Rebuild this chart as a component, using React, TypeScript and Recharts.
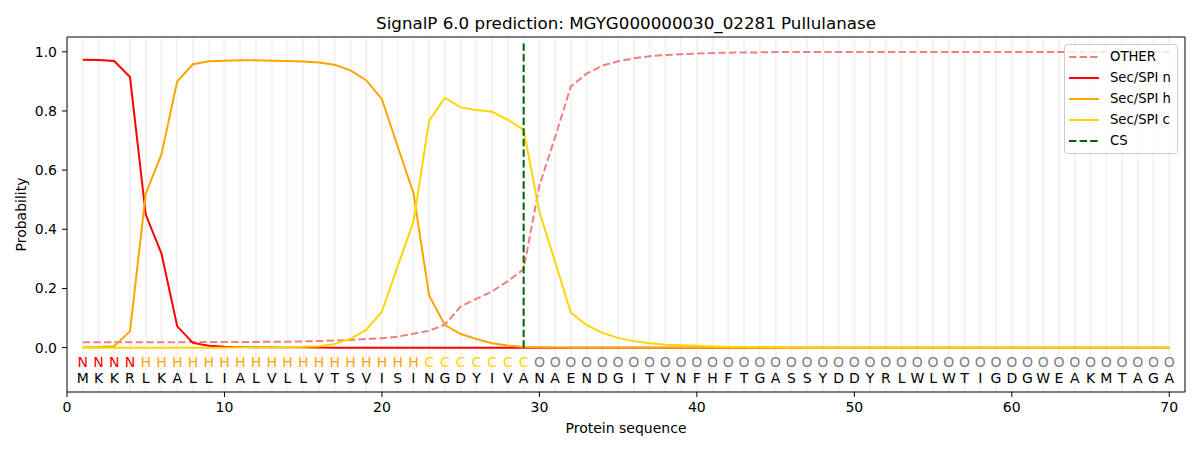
import React from "react";
import {
  CartesianGrid,
  ComposedChart,
  Label,
  Legend,
  Line,
  ReferenceLine,
  XAxis,
  YAxis,
} from "recharts";

// residue positions 1..70
const positions = [
  1, 2, 3, 4, 5, 6, 7, 8, 9, 10, 11, 12, 13, 14, 15, 16, 17, 18, 19, 20,
  21, 22, 23, 24, 25, 26, 27, 28, 29, 30, 31, 32, 33, 34, 35, 36, 37, 38, 39, 40,
  41, 42, 43, 44, 45, 46, 47, 48, 49, 50, 51, 52, 53, 54, 55, 56, 57, 58, 59, 60,
  61, 62, 63, 64, 65, 66, 67, 68, 69, 70,
];

const sequence = "MKKRLKALLIALVLLVTSVISINGDYIVANAENDGITVNFHFTGASSYDDYRLWLWTIGDGWEAKMTAGA";
const regionTags = "NNNNHHHHHHHHHHHHHHHHHHCCCCCCCOOOOOOOOOOOOOOOOOOOOOOOOOOOOOOOOOOOOOOOOO";

const otherProb = [
  0.018, 0.018, 0.018, 0.018, 0.018, 0.018, 0.018, 0.019, 0.019, 0.019,
  0.019, 0.019, 0.02, 0.02, 0.021, 0.022, 0.024, 0.026, 0.029, 0.032,
  0.037, 0.047, 0.057, 0.078, 0.139, 0.165, 0.19, 0.225, 0.265, 0.548,
  0.712, 0.883, 0.926, 0.953, 0.968, 0.978, 0.985, 0.989, 0.992, 0.994,
  0.996, 0.997, 0.998, 0.998, 0.999, 0.999, 0.999, 0.999, 0.999, 0.999,
  0.999, 0.999, 0.999, 0.999, 0.999, 0.999, 0.999, 0.999, 0.999, 0.999,
  0.999, 0.999, 0.999, 0.999, 0.999, 0.999, 0.999, 0.999, 0.999, 0.999,
];

const nProb = [
  0.973, 0.972, 0.969, 0.915, 0.45, 0.318, 0.072, 0.016, 0.006, 0.003,
  0.002, 0.001, 0.001, 0.001, 0.001, 0, 0, 0, 0, 0,
  0, 0, 0, 0, 0, 0, 0, 0, 0, 0,
  0, 0, 0, 0, 0, 0, 0, 0, 0, 0,
  0, 0, 0, 0, 0, 0, 0, 0, 0, 0,
  0, 0, 0, 0, 0, 0, 0, 0, 0, 0,
  0, 0, 0, 0, 0, 0, 0, 0, 0, 0,
];

const hProb = [
  0.001, 0.002, 0.005, 0.055, 0.52, 0.654, 0.9, 0.958, 0.968, 0.97,
  0.971, 0.971, 0.97, 0.969, 0.967, 0.964, 0.956, 0.937, 0.904, 0.84,
  0.68, 0.523, 0.176, 0.076, 0.046, 0.029, 0.015, 0.007, 0.002, 0.001,
  0, 0, 0, 0, 0, 0, 0, 0, 0, 0,
  0, 0, 0, 0, 0, 0, 0, 0, 0, 0,
  0, 0, 0, 0, 0, 0, 0, 0, 0, 0,
  0, 0, 0, 0, 0, 0, 0, 0, 0, 0,
];

const cProb = [
  0, 0, 0, 0, 0, 0, 0, 0, 0, 0,
  0.001, 0.001, 0.001, 0.002, 0.003, 0.005, 0.012, 0.03, 0.06, 0.122,
  0.275, 0.425, 0.767, 0.844, 0.812, 0.803, 0.797, 0.77, 0.736, 0.459,
  0.289, 0.118, 0.076, 0.05, 0.033, 0.022, 0.015, 0.01, 0.008, 0.006,
  0.004, 0.003, 0.002, 0.001, 0.001, 0, 0, 0, 0, 0,
  0, 0, 0, 0, 0, 0, 0, 0, 0, 0,
  0, 0, 0, 0, 0, 0, 0, 0, 0, 0,
];

const cleavageSite = 29;
const xTicks = [0, 10, 20, 30, 40, 50, 60, 70];
const yTicks = [0, 0.2, 0.4, 0.6, 0.8, 1.0];

const tagColors: Record<string, string> = {
  N: "#ff0000",
  H: "#ffa500",
  C: "#ffd700",
  O: "#808080",
};

const legendItems = [
  { name: "OTHER", color: "#f08080", dash: "7.4 3.2" },
  { name: "Sec/SPI n", color: "#ff0000", dash: "" },
  { name: "Sec/SPI h", color: "#ffa500", dash: "" },
  { name: "Sec/SPI c", color: "#ffd700", dash: "" },
  { name: "CS", color: "#006400", dash: "7.4 3.2" },
];

const rows = positions.map((pos, i) => ({
  pos,
  aa: sequence[i],
  tag: regionTags[i],
  other: otherProb[i],
  n: nProb[i],
  h: hProb[i],
  c: cProb[i],
}));

const FONT = "'DejaVu Sans', sans-serif";

function renderTag(props: any) {
  const { cx, cy, payload, index } = props;
  return (
    <text
      key={`tag-${index}`}
      x={cx}
      y={cy}
      textAnchor="middle"
      dominantBaseline="central"
      fontFamily={FONT}
      fontSize={14}
      fill={tagColors[payload.tag]}
    >
      {payload.tag}
    </text>
  );
}

function renderResidue(props: any) {
  const { cx, cy, payload, index } = props;
  return (
    <text
      key={`aa-${index}`}
      x={cx}
      y={cy}
      textAnchor="middle"
      dominantBaseline="central"
      fontFamily={FONT}
      fontSize={14}
      fill="#000"
    >
      {payload.aa}
    </text>
  );
}

function renderLegend() {
  return (
    <div
      style={{
        border: "1px solid #cccccc",
        borderRadius: 4,
        background: "rgba(255,255,255,0.8)",
        padding: "1px 0 2px 4px",
        fontFamily: FONT,
        fontSize: 13.2,
        color: "#000",
        boxSizing: "border-box",
        width: 114,
        whiteSpace: "nowrap",
      }}
    >
      {legendItems.map((item) => (
        <div key={item.name} style={{ display: "flex", alignItems: "center", height: 21 }}>
          <svg width={30} height={4} style={{ marginRight: 11, flexShrink: 0 }}>
            <line
              x1={0}
              y1={2}
              x2={30}
              y2={2}
              stroke={item.color}
              strokeWidth={2}
              strokeDasharray={item.dash || undefined}
            />
          </svg>
          <span>{item.name}</span>
        </div>
      ))}
    </div>
  );
}

export default function App() {
  return (
    <div style={{ position: "relative", width: 1200, height: 450, background: "#fff" }}>
      <style>{"body{margin:0}"}</style>
      <div
        style={{
          position: "absolute",
          top: 15,
          left: 67,
          width: 1118,
          textAlign: "center",
          fontFamily: FONT,
          fontSize: 16.7,
          lineHeight: "16.7px",
          color: "#000",
          zIndex: 1,
        }}
      >
        SignalP 6.0 prediction: MGYG000000030_02281 Pullulanase
      </div>
      <ComposedChart
        width={1200}
        height={450}
        data={rows}
        margin={{ top: 37, right: 15, bottom: 0, left: 7 }}
      >
        <CartesianGrid
          horizontal={false}
          stroke="#f3f3f3"
          strokeWidth={2}
          verticalCoordinatesGenerator={({ offset }: any) =>
            positions.map((p) => offset.left + (p / 71) * offset.width)
          }
        />
        <XAxis
          dataKey="pos"
          type="number"
          domain={[0, 71]}
          ticks={xTicks}
          allowDataOverflow
          stroke="#000"
          tickSize={5}
          tickMargin={5}
          height={58}
          tick={{ fill: "#000", fontSize: 14, fontFamily: FONT }}
        >
          <Label
            value="Protein sequence"
            position="insideBottom"
            offset={17}
            style={{ fill: "#000", fontSize: 14, fontFamily: FONT }}
          />
        </XAxis>
        <YAxis
          type="number"
          domain={[-0.15, 1.05]}
          ticks={yTicks}
          allowDataOverflow
          stroke="#000"
          tickSize={5}
          tickMargin={5}
          width={60}
          tickFormatter={(v: number) => v.toFixed(1)}
          tick={{ fill: "#000", fontSize: 14, fontFamily: FONT }}
        >
          <Label
            value="Probability"
            angle={-90}
            position="insideLeft"
            offset={14}
            style={{ fill: "#000", fontSize: 14, fontFamily: FONT, textAnchor: "middle" }}
          />
        </YAxis>
        <ReferenceLine y={1.05} stroke="#000" strokeWidth={1} />
        <ReferenceLine x={71} stroke="#000" strokeWidth={1} />
        <Legend
          content={renderLegend}
          layout="horizontal"
          verticalAlign="middle"
          align="center"
          wrapperStyle={{ top: 44, left: 1064, width: 114 }}
        />
        <Line
          dataKey="other"
          name="OTHER"
          stroke="#f08080"
          strokeWidth={2}
          strokeDasharray="7.4 3.2"
          dot={false}
          isAnimationActive={false}
        />
        <Line dataKey="n" name="Sec/SPI n" stroke="#ff0000" strokeWidth={2} dot={false} isAnimationActive={false} />
        <Line dataKey="h" name="Sec/SPI h" stroke="#ffa500" strokeWidth={2} dot={false} isAnimationActive={false} />
        <Line dataKey="c" name="Sec/SPI c" stroke="#ffd700" strokeWidth={2} dot={false} isAnimationActive={false} />
        <ReferenceLine
          segment={[
            { x: cleavageSite, y: 0 },
            { x: cleavageSite, y: 1.035 },
          ]}
          stroke="#006400"
          strokeWidth={2}
          strokeDasharray="7.4 3.2"
        />
        <Line
          dataKey={() => -0.047}
          stroke="none"
          dot={renderTag}
          activeDot={false}
          legendType="none"
          isAnimationActive={false}
        />
        <Line
          dataKey={() => -0.102}
          stroke="none"
          dot={renderResidue}
          activeDot={false}
          legendType="none"
          isAnimationActive={false}
        />
      </ComposedChart>
    </div>
  );
}
